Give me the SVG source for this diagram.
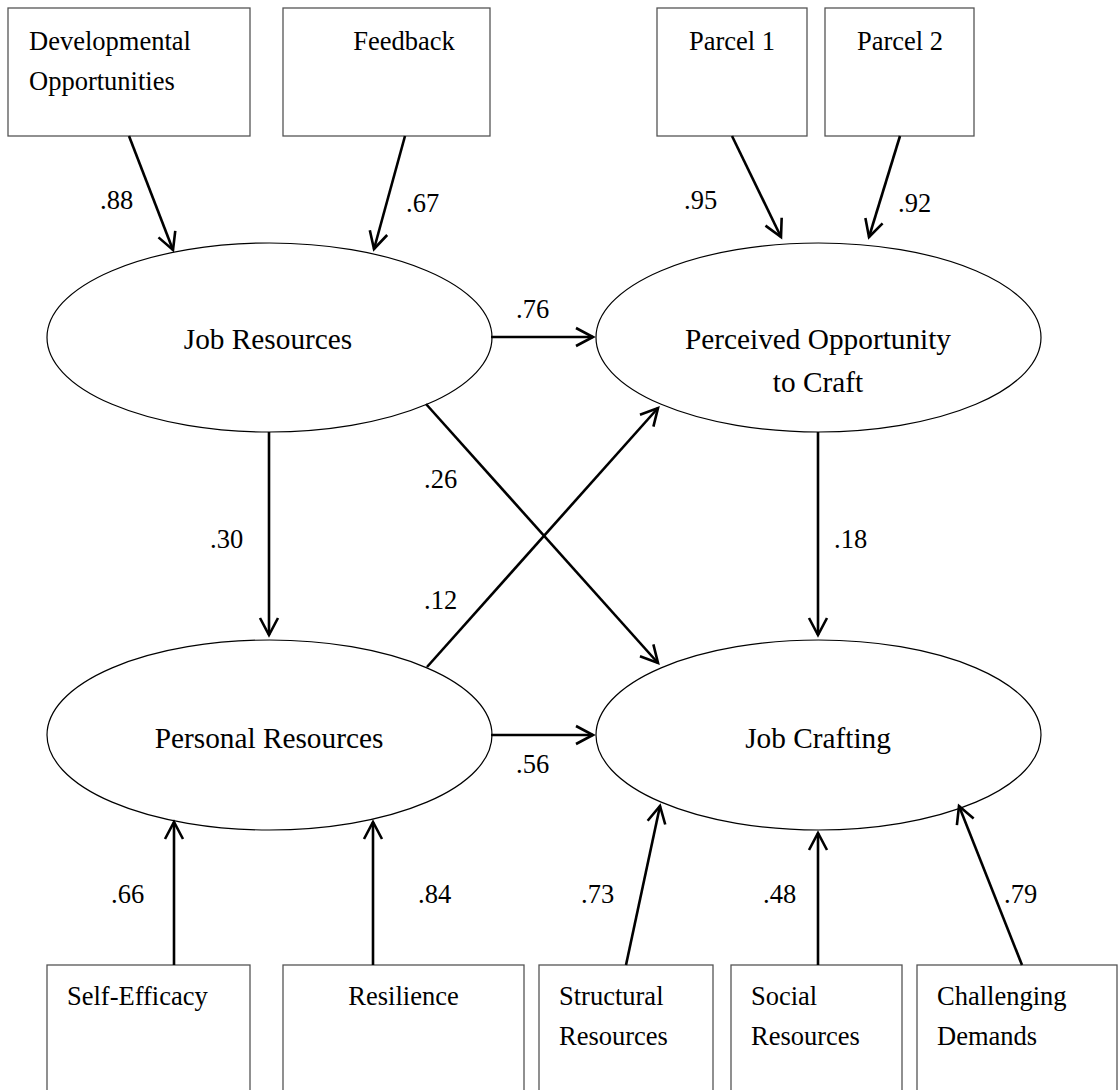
<svg xmlns="http://www.w3.org/2000/svg" width="1118" height="1090" viewBox="0 0 1118 1090">
  <style>
    .box { fill: #fff; stroke: #555; stroke-width: 1.3; }
    .lat { fill: #fff; stroke: #000; stroke-width: 1.2; }
    .t { font-family: "Liberation Serif", "Times New Roman", serif; font-size: 26.5px; fill: #000; }
    .tl { font-family: "Liberation Serif", "Times New Roman", serif; font-size: 29.3px; fill: #000; text-anchor: middle; }
    .c { text-anchor: middle; }
    .arr { stroke: #000; stroke-width: 2.6; fill: none; marker-end: url(#ah); }
  </style>
  <defs>
    <marker id="ah" markerUnits="userSpaceOnUse" markerWidth="30" markerHeight="30" refX="0" refY="0" viewBox="-22 -15 26 30" orient="auto" overflow="visible">
      <path d="M-17,-9 L0,0 L-17,9" fill="none" stroke="#000" stroke-width="2.6" stroke-linejoin="miter"/>
    </marker>
  </defs>
  <rect width="1118" height="1090" fill="#fff"/>

  <g id="devopp">
    <rect class="box" x="8" y="8" width="242" height="128"/>
    <text class="t" x="29" y="50">Developmental</text>
    <text class="t" x="29" y="90">Opportunities</text>
  </g>
  <g id="feedback">
    <rect class="box" x="283" y="8" width="207" height="128"/>
    <text class="t c" x="404" y="50">Feedback</text>
  </g>
  <g id="parcel1">
    <rect class="box" x="657" y="8" width="150" height="128"/>
    <text class="t c" x="732" y="50">Parcel 1</text>
  </g>
  <g id="parcel2">
    <rect class="box" x="825" y="8" width="149" height="128"/>
    <text class="t c" x="900" y="50">Parcel 2</text>
  </g>

  <g id="jobresources">
    <ellipse class="lat" cx="269.5" cy="337.5" rx="222.5" ry="94.5"/>
    <text class="tl" x="268" y="349">Job Resources</text>
  </g>
  <g id="poc">
    <ellipse class="lat" cx="818.5" cy="337.5" rx="222.5" ry="94.5"/>
    <text class="tl" x="818" y="349">Perceived Opportunity</text>
    <text class="tl" x="818" y="392">to Craft</text>
  </g>
  <g id="personalresources">
    <ellipse class="lat" cx="269.5" cy="735" rx="222.5" ry="95"/>
    <text class="tl" x="269" y="748">Personal Resources</text>
  </g>
  <g id="jobcrafting">
    <ellipse class="lat" cx="818.5" cy="735" rx="222.5" ry="95"/>
    <text class="tl" x="818" y="748">Job Crafting</text>
  </g>

  <g id="selfefficacy">
    <rect class="box" x="47" y="965" width="203" height="128"/>
    <text class="t" x="67" y="1005">Self-Efficacy</text>
  </g>
  <g id="resilience">
    <rect class="box" x="283" y="965" width="241" height="128"/>
    <text class="t c" x="403.5" y="1005">Resilience</text>
  </g>
  <g id="structural">
    <rect class="box" x="539" y="965" width="174" height="128"/>
    <text class="t" x="559" y="1005">Structural</text>
    <text class="t" x="559" y="1045">Resources</text>
  </g>
  <g id="social">
    <rect class="box" x="731" y="965" width="171" height="128"/>
    <text class="t" x="751" y="1005">Social</text>
    <text class="t" x="751" y="1045">Resources</text>
  </g>
  <g id="challenging">
    <rect class="box" x="917" y="965" width="200" height="128"/>
    <text class="t" x="937" y="1005">Challenging</text>
    <text class="t" x="937" y="1045">Demands</text>
  </g>

  <g id="connectors">
    <line class="arr" x1="129" y1="136" x2="173" y2="250"/>
    <line class="arr" x1="405" y1="136" x2="374" y2="249"/>
    <line class="arr" x1="732" y1="136" x2="781" y2="237"/>
    <line class="arr" x1="900" y1="136" x2="869" y2="237"/>
    <line class="arr" x1="491" y1="337" x2="593" y2="337"/>
    <line class="arr" x1="269" y1="432" x2="269" y2="635"/>
    <line class="arr" x1="818" y1="432" x2="818" y2="635"/>
    <line class="arr" x1="426" y1="404" x2="658" y2="663"/>
    <line class="arr" x1="427" y1="667" x2="658" y2="408"/>
    <line class="arr" x1="491" y1="735" x2="593" y2="735"/>
    <line class="arr" x1="174" y1="965" x2="174" y2="822"/>
    <line class="arr" x1="373" y1="965" x2="373" y2="822"/>
    <line class="arr" x1="626" y1="965" x2="660" y2="806"/>
    <line class="arr" x1="818" y1="965" x2="818" y2="833"/>
    <line class="arr" x1="1022" y1="965" x2="959" y2="806"/>
  </g>

  <g id="labels">
    <text class="t" x="100" y="209">.88</text>
    <text class="t" x="406" y="212">.67</text>
    <text class="t" x="684" y="209">.95</text>
    <text class="t" x="898" y="212">.92</text>
    <text class="t" x="516" y="318">.76</text>
    <text class="t" x="210" y="548">.30</text>
    <text class="t" x="834" y="548">.18</text>
    <text class="t" x="424" y="488">.26</text>
    <text class="t" x="424" y="609">.12</text>
    <text class="t" x="516" y="773">.56</text>
    <text class="t" x="111" y="903">.66</text>
    <text class="t" x="418" y="903">.84</text>
    <text class="t" x="581" y="903">.73</text>
    <text class="t" x="763" y="903">.48</text>
    <text class="t" x="1004" y="903">.79</text>
  </g>
</svg>
